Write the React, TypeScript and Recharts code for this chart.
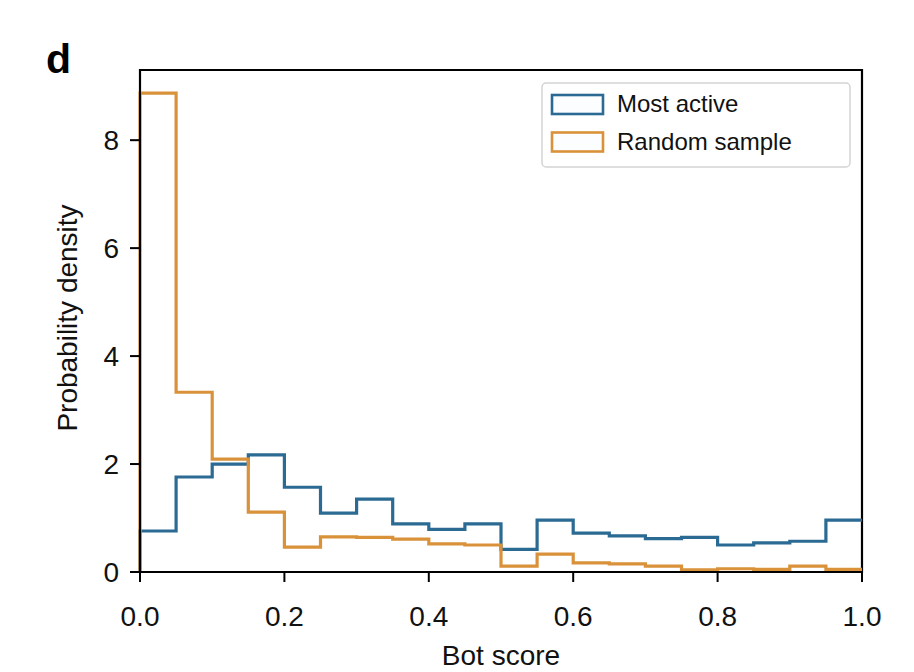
import { ComposedChart, Line, XAxis, YAxis, ReferenceArea } from "recharts";

// bin left edges (bins of width 0.05), last entry closes the final bin at 1.0
const binEdges = [0, 0.05, 0.1, 0.15, 0.2, 0.25, 0.3, 0.35, 0.4, 0.45, 0.5, 0.55, 0.6, 0.65, 0.7, 0.75, 0.8, 0.85, 0.9, 0.95, 1.0];
const mostActive = [0.76, 1.76, 2.0, 2.17, 1.57, 1.09, 1.35, 0.89, 0.79, 0.89, 0.42, 0.96, 0.72, 0.67, 0.62, 0.64, 0.5, 0.54, 0.57, 0.96];
const randomSample = [8.87, 3.33, 2.09, 1.11, 0.46, 0.65, 0.64, 0.61, 0.52, 0.5, 0.11, 0.33, 0.17, 0.15, 0.11, 0.04, 0.06, 0.05, 0.11, 0.05];
const xTicks = [0, 0.2, 0.4, 0.6, 0.8, 1.0];
const yTicks = [0, 2, 4, 6, 8];

const BLUE = "#2b6b93";
const ORANGE = "#d9923a";
const FONT = "'Liberation Sans', Arial, sans-serif";

// step outline: rise from 0 at the left edge, hold each bin value, repeat last value at the right edge
function stepData(values: number[]) {
  const pts = [{ x: binEdges[0], y: 0 }];
  values.forEach((v, i) => pts.push({ x: binEdges[i], y: v }));
  pts.push({ x: binEdges[binEdges.length - 1], y: values[values.length - 1] });
  return pts;
}

const series = [
  { name: "Most active", color: BLUE, data: stepData(mostActive) },
  { name: "Random sample", color: ORANGE, data: stepData(randomSample) },
];

// legend box drawn as an svg overlay so it doesn't steal plot height
function LegendBox() {
  return (
    <svg width={914} height={672} style={{ position: "absolute", left: 0, top: 0, pointerEvents: "none" }}>
      <rect x={542} y={83} width={308} height={84} rx={4} fill="#fff" stroke="#d4d4d4" strokeWidth={1.5} />
      {series.map((s, i) => (
        <g key={s.name}>
          <rect x={552} y={95 + i * 37.5} width={51} height={19} fill="#fbfdff" stroke={s.color} strokeWidth={2.6} />
          <text x={617} y={112 + i * 37.5} fontSize={24} fontFamily={FONT} fill="#111">{s.name}</text>
        </g>
      ))}
      <text x={46} y={73} fontSize={41} fontWeight={700} fontFamily={FONT} fill="#000">d</text>
    </svg>
  );
}

export default function App() {
  return (
    <div style={{ position: "absolute", left: 0, top: 0, width: 914, height: 672, background: "#fff", overflow: "hidden" }}>
      <ComposedChart width={914} height={672} margin={{ top: 70, right: 52, bottom: 0, left: 0 }}>
        <XAxis
          dataKey="x" type="number" domain={[0, 1]} ticks={xTicks} allowDuplicatedCategory={false}
          tickFormatter={(v: number) => v.toFixed(1)} height={100}
          axisLine={{ stroke: "#000", strokeWidth: 2 }} tickLine={{ stroke: "#000", strokeWidth: 2 }} tickSize={10}
          tick={{ fill: "#111", fontSize: 28, fontFamily: FONT, dy: 22 }}
          label={{
            content: () => (
              <text x={501} y={665} textAnchor="middle" fontSize={28} fontFamily={FONT} fill="#111">Bot score</text>
            ),
          }}
        />
        <YAxis
          type="number" domain={[0, 9.3]} ticks={yTicks} width={140}
          axisLine={{ stroke: "#000", strokeWidth: 2 }} tickLine={{ stroke: "#000", strokeWidth: 2 }} tickSize={10}
          tick={{ fill: "#111", fontSize: 28, fontFamily: FONT, dx: -9 }}
          label={{
            content: () => (
              <text x={77} y={318} transform="rotate(-90 77 318)" textAnchor="middle"
                fontSize={28} fontFamily={FONT} fill="#111">Probability density</text>
            ),
          }}
        />
        {series.map((s) => (
          <Line
            key={s.name} name={s.name} data={s.data} dataKey="y" type="stepAfter"
            stroke={s.color} strokeWidth={3.2} dot={false} activeDot={false} isAnimationActive={false}
          />
        ))}
        <ReferenceArea x1={0} x2={1} y1={0} y2={9.3} fill="none" stroke="#000" strokeWidth={2.2} ifOverflow="visible" />
      </ComposedChart>
      <LegendBox />
    </div>
  );
}
